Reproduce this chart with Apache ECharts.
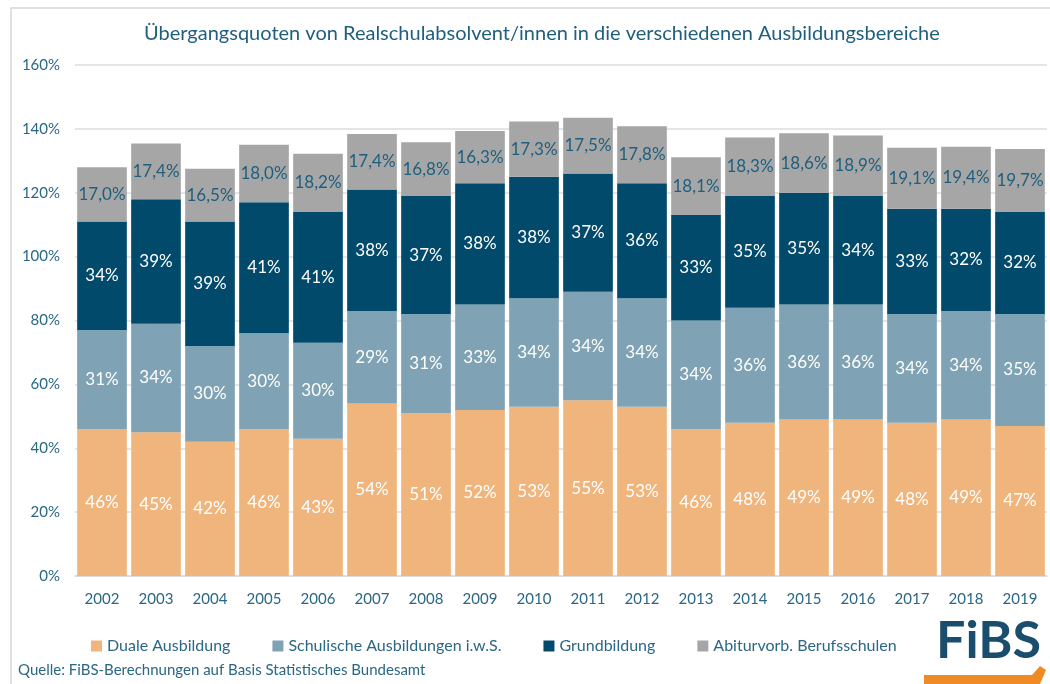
<!DOCTYPE html>
<html>
<head>
<meta charset="utf-8">
<script src="https://cdn.jsdelivr.net/npm/echarts@6/dist/echarts.min.js"></script>
<style>
  html, body { margin: 0; padding: 0; background: #fff; }
  #chart { width: 1050px; height: 684px; }
</style>
</head>
<body>
<div id="chart"></div>
<script>
// Jahre
var years = ['2002', '2003', '2004', '2005', '2006', '2007', '2008', '2009', '2010',
  '2011', '2012', '2013', '2014', '2015', '2016', '2017', '2018', '2019']
// Übergangsquoten in %
var duale = [46, 45, 42, 46, 43, 54, 51, 52, 53, 55, 53, 46, 48, 49, 49, 48, 49, 47]
var schulische = [31, 34, 30, 30, 30, 29, 31, 33, 34, 34, 34, 34, 36, 36, 36, 34, 34, 35]
var grundbildung = [34, 39, 39, 41, 41, 38, 37, 38, 38, 37, 36, 33, 35, 35, 34, 33, 32, 32]
var abitur = [17.0, 17.4, 16.5, 18.0, 18.2, 17.4, 16.8, 16.3, 17.3, 17.5, 17.8, 18.1, 18.3, 18.6, 18.9, 19.1, 19.4, 19.7]
var seriesNames = ['Duale Ausbildung', 'Schulische Ausbildungen i.w.S.', 'Grundbildung', 'Abiturvorb. Berufsschulen']
var seriesColors = ['#f0b57d', '#7fa3b4', '#014a6b', '#a6a6a6']

var font = 'Lato'
var textColor = '#2a6785'

function makeSeries (name, data, color, labelColor, fmt) {
  return {
    name: name,
    type: 'bar',
    stack: 'total',
    data: data,
    barCategoryGap: '8%',
    itemStyle: { color: color },
    label: {
      show: true,
      position: 'inside',
      color: labelColor,
      fontFamily: font,
      fontSize: 17,
      formatter: fmt
    }
  }
}

var pct = function (p) { return p.value + '%' }
var pctDec = function (p) { return p.value.toFixed(1).replace('.', ',') + '%' }

var chart = echarts.init(document.getElementById('chart'))
chart.setOption({
  animation: false,
  title: {
    text: 'Übergangsquoten von Realschulabsolvent/innen in die verschiedenen Ausbildungsbereiche',
    left: 139,
    top: 19,
    textStyle: { color: '#1f5f7d', fontFamily: font, fontSize: 20, fontWeight: 'normal' }
  },
  grid: { left: 75, right: 3, top: 65, bottom: 108 },
  legend: {
    left: 86,
    top: 633,
    icon: 'rect',
    itemWidth: 11,
    itemHeight: 11,
    itemGap: 42,
    textStyle: { color: textColor, fontFamily: font, fontSize: 16 },
    data: seriesNames
  },
  xAxis: {
    type: 'category',
    data: years,
    axisLine: { lineStyle: { color: '#d9d9d9', width: 1.5 } },
    axisTick: { show: false },
    axisLabel: { color: textColor, fontFamily: font, fontSize: 15, margin: 16 }
  },
  yAxis: {
    type: 'value',
    min: 0,
    max: 160,
    interval: 20,
    axisLabel: { color: textColor, fontFamily: font, fontSize: 15, margin: 15, formatter: '{value}%' },
    splitLine: { lineStyle: { color: '#dcdcdc', width: 1.5 } }
  },
  series: [
    makeSeries(seriesNames[0], duale, seriesColors[0], '#ffffff', pct),
    makeSeries(seriesNames[1], schulische, seriesColors[1], '#ffffff', pct),
    makeSeries(seriesNames[2], grundbildung, seriesColors[2], '#ffffff', pct),
    makeSeries(seriesNames[3], abitur, seriesColors[3], '#1f5f7d', pctDec)
  ],
  graphic: [
    {
      // Rahmen
      type: 'polyline',
      silent: true,
      shape: { points: [[11, 684], [11, 8], [1050, 8]] },
      style: { stroke: '#d6d6d6', lineWidth: 1.5, fill: null }
    },
    {
      type: 'text',
      left: 18,
      top: 663,
      style: { text: 'Quelle: FiBS-Berechnungen auf Basis Statistisches Bundesamt', fill: textColor, font: '15px Lato' }
    },
    {
      // Logo
      type: 'text',
      left: 936,
      top: 615,
      style: { text: 'FiBS', fill: '#1b4e6c', font: 'bold 52px Lato' }
    },
    {
      type: 'polygon',
      silent: true,
      shape: { points: [[924, 684], [924, 675], [1032, 675], [1040, 666], [1046, 670], [1040, 684]] },
      style: { fill: '#f08a24' }
    }
  ]
})
</script>
</body>
</html>
